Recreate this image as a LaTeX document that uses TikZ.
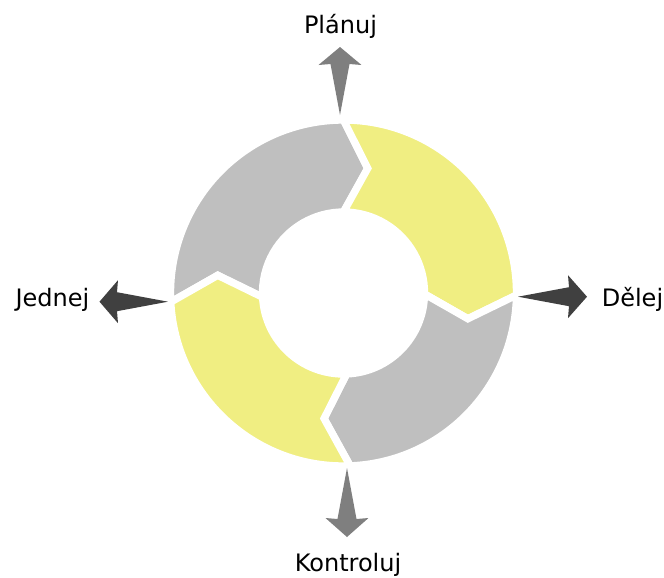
\documentclass[tikz,border=0pt]{standalone}
\usepackage{fontspec}
\setmainfont{DejaVu Sans}
\usepackage{tikz}
\usetikzlibrary{positioning,calc}
\definecolor{cycyellow}{RGB}{240,238,130}
\definecolor{cycgray}{RGB}{191,191,191}
\definecolor{arrowmid}{RGB}{127,127,127}
\definecolor{arrowdark}{RGB}{64,64,64}

\begin{document}
\begin{tikzpicture}[x=0.03cm,y=0.03cm,
  segment/.style={draw=white,line width=2.2mm,line join=miter},
  phasetext/.style={font=\fontsize{20.5}{24}\selectfont,anchor=base,inner sep=0pt}]

\useasboundingbox (-343.5,-284) rectangle (320.5,293);

% ring of four chevron segments
\draw[segment,fill=cycgray] (183:173) arc[start angle=183,end angle=90,radius=173] -- (79:127) -- (90:81) arc[start angle=90,end angle=183,radius=81] -- (172:127) -- cycle;
\draw[segment,fill=cycyellow] (90:173) arc[start angle=90,end angle=-0.7,radius=173] -- (-11.7:127) -- (-0.7:81) arc[start angle=-0.7,end angle=90,radius=81] -- (79:127) -- cycle;
\draw[segment,fill=cycgray] (-0.7:173) arc[start angle=-0.7,end angle=-87.8,radius=173] -- (-98.8:127) -- (-87.8:81) arc[start angle=-87.8,end angle=-0.7,radius=81] -- (-11.7:127) -- cycle;
\draw[segment,fill=cycyellow] (-87.8:173) arc[start angle=-87.8,end angle=-177,radius=173] -- (-188:127) -- (-177:81) arc[start angle=-177,end angle=-87.8,radius=81] -- (-98.8:127) -- cycle;

% arrows out of the ring
\coordinate (plan-tail) at (-3.5,178);
\coordinate (do-tail) at (174.5,-3.7);
\coordinate (check-tail) at (3.5,-175);
\coordinate (act-tail) at (-175.5,-8.7);

\begin{scope}[shift={(plan-tail)},rotate=90]
\fill[arrowmid] (0,0) -- (51,9.5) -- (50,21.5) -- (68,0) -- (50,-21.5) -- (51,-9.5) -- cycle;
\end{scope}
\begin{scope}[shift={(do-tail)}]
\fill[arrowdark] (0,0) -- (51,9.5) -- (50,21.5) -- (69,0) -- (50,-21.5) -- (51,-9.5) -- cycle;
\end{scope}
\begin{scope}[shift={(check-tail)},rotate=-90]
\fill[arrowmid] (0,0) -- (51,9.5) -- (50,21.5) -- (69,0) -- (50,-21.5) -- (51,-9.5) -- cycle;
\end{scope}
\begin{scope}[shift={(act-tail)},rotate=180]
\fill[arrowdark] (0,0) -- (51,9.5) -- (50,21.5) -- (68.5,0) -- (50,-21.5) -- (51,-9.5) -- cycle;
\end{scope}

% phase labels
\node[phasetext] (plan) at (-3,259.7) {Plánuj};
\node[phasetext] (do) at (289,-13.7) {Dělej};
\node[phasetext] (check) at (4.5,-278.7) {Kontroluj};
\node[phasetext] (act) at (-291,-13.7) {Jednej};
\end{tikzpicture}
\end{document}
